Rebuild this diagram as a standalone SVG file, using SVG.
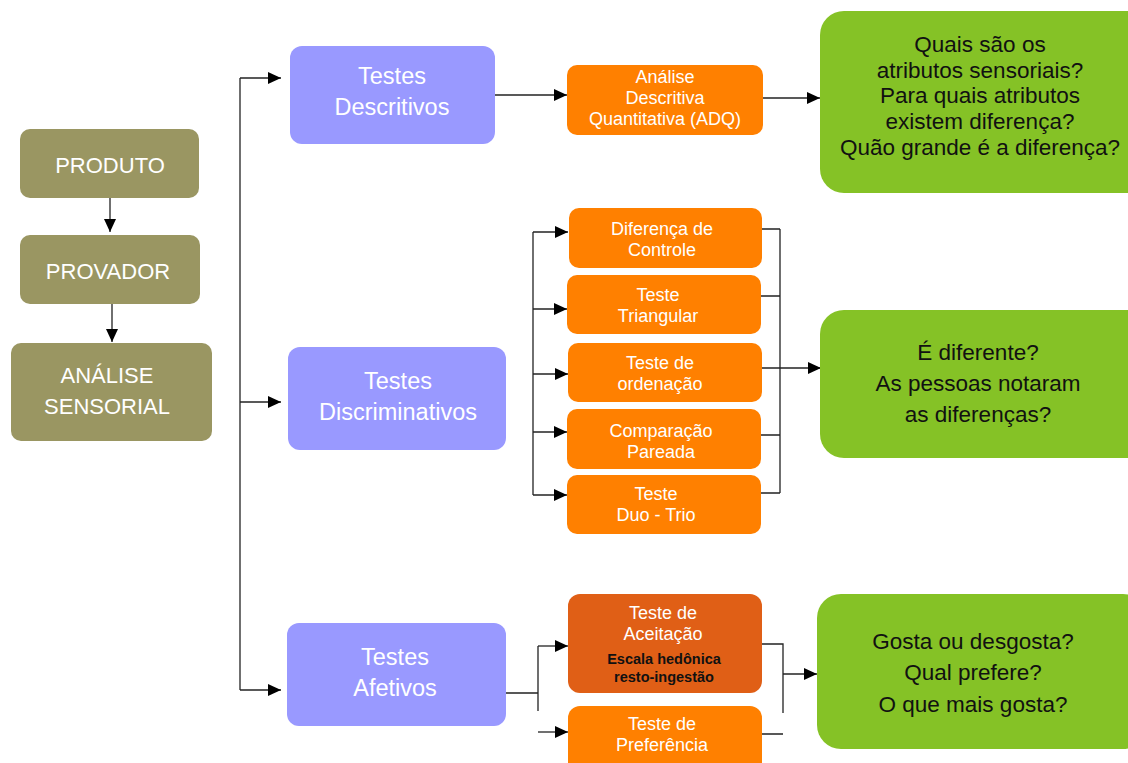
<svg xmlns="http://www.w3.org/2000/svg" width="1128" height="763" viewBox="0 0 1128 763">
<style>
text{font-family:"Liberation Sans",Arial,sans-serif;text-anchor:middle}
.olive{fill:#9a9662}
.purple{fill:#9999ff}
.orange{fill:#ff8000}
.dorange{fill:#e05f16}
.green{fill:#85c226}
.wl{fill:#fff;font-size:22px}
.wp{fill:#fff;font-size:23.5px}
.wo{fill:#fff;font-size:18px}
.bk{fill:#111;font-size:22.5px}
.bb{fill:#111;font-size:14.5px;font-weight:bold}
.ln{fill:none;stroke:#222;stroke-width:1.3}
.ar{marker-end:url(#ah)}
</style>
<defs>
<marker id="ah" markerUnits="userSpaceOnUse" markerWidth="13" markerHeight="12" refX="13" refY="6" orient="auto"><path d="M0,0 L13,6 L0,12 z" fill="#000"/></marker>
</defs>
<g id="connectors">
<path class="ln ar" d="M110,198 V232"/>
<path class="ln ar" d="M112,304 V342"/>
<path class="ln" d="M240,78 V690"/>
<path class="ln ar" d="M240,78 H281"/>
<path class="ln ar" d="M240,402 H281"/>
<path class="ln ar" d="M240,690 H281"/>
<path class="ln ar" d="M495,95 H567"/>
<path class="ln ar" d="M763,98 H820"/>
<path class="ln" d="M533,232 V495"/>
<path class="ln ar" d="M533,232 H568"/>
<path class="ln ar" d="M533,309 H567"/>
<path class="ln ar" d="M533,374 H568"/>
<path class="ln ar" d="M533,432 H567"/>
<path class="ln ar" d="M533,495 H567"/>
<path class="ln" d="M762,229 H780 M761,296 H780 M761,435 H780 M761,493 H780 M780,229 V493"/>
<path class="ln ar" d="M762,368 H821"/>
<path class="ln" d="M506,693 H538 M538,646 V711"/>
<path class="ln ar" d="M538,646 H568"/>
<path class="ln ar" d="M538,732 H568"/>
<path class="ln" d="M762,644 H783 V713 M762,734 H783"/>
<path class="ln ar" d="M783,674 H817"/>
</g>
<g id="produto"><rect class="olive" x="20" y="129" width="179" height="69" rx="10"/><text class="wl" x="110" y="173">PRODUTO</text></g>
<g id="provador"><rect class="olive" x="20" y="235" width="180" height="69" rx="10"/><text class="wl" x="108" y="279">PROVADOR</text></g>
<g id="analise-sensorial"><rect class="olive" x="11" y="343" width="201" height="98" rx="10"/><text class="wl" x="107" y="383">ANÁLISE</text><text class="wl" x="107" y="414">SENSORIAL</text></g>
<g id="testes-descritivos"><rect class="purple" x="290" y="46" width="205" height="98" rx="12"/><text class="wp" x="392" y="84">Testes</text><text class="wp" x="392" y="115">Descritivos</text></g>
<g id="testes-discriminativos"><rect class="purple" x="288" y="347" width="218" height="103" rx="12"/><text class="wp" x="398" y="389">Testes</text><text class="wp" x="398" y="420">Discriminativos</text></g>
<g id="testes-afetivos"><rect class="purple" x="287" y="623" width="219" height="103" rx="12"/><text class="wp" x="395" y="665">Testes</text><text class="wp" x="395" y="696">Afetivos</text></g>
<g id="adq"><rect class="orange" x="567" y="65" width="196" height="70" rx="10"/><text class="wo" x="665" y="83">Análise</text><text class="wo" x="665" y="104">Descritiva</text><text class="wo" x="665" y="125">Quantitativa (ADQ)</text></g>
<g id="diferenca-controle"><rect class="orange" x="569" y="208" width="193" height="60" rx="10"/><text class="wo" x="662" y="235">Diferença de</text><text class="wo" x="662" y="256">Controle</text></g>
<g id="teste-triangular"><rect class="orange" x="567" y="275" width="194" height="59" rx="10"/><text class="wo" x="658" y="301">Teste</text><text class="wo" x="658" y="322">Triangular</text></g>
<g id="teste-ordenacao"><rect class="orange" x="568" y="343" width="194" height="59" rx="10"/><text class="wo" x="660" y="369">Teste de</text><text class="wo" x="660" y="390">ordenação</text></g>
<g id="comparacao-pareada"><rect class="orange" x="567" y="409" width="194" height="60" rx="10"/><text class="wo" x="661" y="437">Comparação</text><text class="wo" x="661" y="458">Pareada</text></g>
<g id="teste-duo-trio"><rect class="orange" x="567" y="475" width="194" height="59" rx="10"/><text class="wo" x="656" y="500">Teste</text><text class="wo" x="656" y="521">Duo - Trio</text></g>
<g id="teste-aceitacao"><rect class="dorange" x="568" y="594" width="194" height="99" rx="12"/><text class="wo" x="663" y="619">Teste de</text><text class="wo" x="663" y="640">Aceitação</text><text class="bb" x="664" y="664">Escala hedônica</text><text class="bb" x="664" y="682">resto-ingestão</text></g>
<g id="teste-preferencia"><rect class="orange" x="568" y="706" width="194" height="70" rx="12"/><text class="wo" x="662" y="730">Teste de</text><text class="wo" x="662" y="751">Preferência</text></g>
<g id="q-descritivos"><rect class="green" x="820" y="11" width="330" height="182" rx="24"/><text class="bk" x="980" y="52">Quais são os</text><text class="bk" x="980" y="78">atributos sensoriais?</text><text class="bk" x="980" y="103">Para quais atributos</text><text class="bk" x="980" y="129">existem diferença?</text><text class="bk" x="980" y="155">Quão grande é a diferença?</text></g>
<g id="q-discriminativos"><rect class="green" x="820" y="310" width="330" height="148" rx="24"/><text class="bk" x="978" y="360">É diferente?</text><text class="bk" x="978" y="391">As pessoas notaram</text><text class="bk" x="978" y="422">as diferenças?</text></g>
<g id="q-afetivos"><rect class="green" x="817" y="594" width="330" height="155" rx="24"/><text class="bk" x="973" y="649">Gosta ou desgosta?</text><text class="bk" x="973" y="680">Qual prefere?</text><text class="bk" x="973" y="712">O que mais gosta?</text></g>
</svg>
